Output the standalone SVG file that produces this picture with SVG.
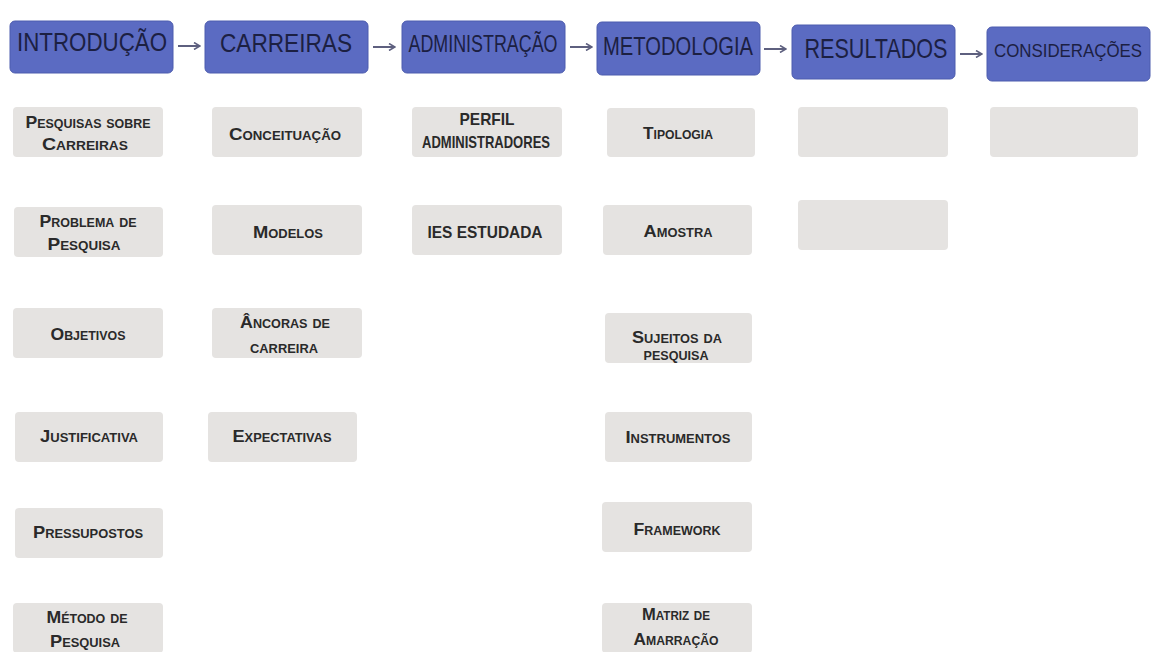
<svg xmlns="http://www.w3.org/2000/svg" width="1156" height="652" viewBox="0 0 1156 652">
<style>
.hdr rect{fill:#5b6bc2;stroke:#4d5cae;stroke-width:1}
.hdr text{font-family:"Liberation Sans Narrow","Liberation Sans",Arial,sans-serif;fill:#1c2042;text-anchor:middle}
.sub rect{fill:#e5e3e1}
.sub text{font-family:"Liberation Sans Narrow","Liberation Sans",Arial,sans-serif;font-weight:bold;font-size:17px;font-variant:small-caps;fill:#2a2a2a;text-anchor:middle}
.conn line{stroke:#5e607f;stroke-width:2}
</style>
<defs>
<marker id="ah" markerWidth="8" markerHeight="8" refX="7" refY="4" orient="auto" markerUnits="userSpaceOnUse">
<path d="M1,0.5 L7,4 L1,7.5" fill="none" stroke="#5e607f" stroke-width="1.6"/>
</marker>
</defs>
<rect width="1156" height="652" fill="#ffffff"/>

<g id="connectors" class="conn">
<line x1="178" y1="46" x2="200" y2="46" marker-end="url(#ah)"/>
<line x1="373" y1="47" x2="395" y2="47" marker-end="url(#ah)"/>
<line x1="570" y1="47" x2="592" y2="47" marker-end="url(#ah)"/>
<line x1="764" y1="49" x2="786" y2="49" marker-end="url(#ah)"/>
<line x1="960" y1="54" x2="982" y2="54" marker-end="url(#ah)"/>
</g>

<g id="h-introducao" class="hdr"><rect x="10" y="21" width="163" height="52" rx="5"/><text x="92" y="51" font-size="25" textLength="150" lengthAdjust="spacingAndGlyphs">INTRODUÇÃO</text></g>
<g id="h-carreiras" class="hdr"><rect x="205" y="21" width="163" height="52" rx="5"/><text x="286" y="52" font-size="25" textLength="132" lengthAdjust="spacingAndGlyphs">CARREIRAS</text></g>
<g id="h-administracao" class="hdr"><rect x="402" y="21" width="163" height="52" rx="5"/><text x="483" y="52" font-size="23" textLength="149" lengthAdjust="spacingAndGlyphs">ADMINISTRAÇÃO</text></g>
<g id="h-metodologia" class="hdr"><rect x="597" y="22" width="163" height="53" rx="5"/><text x="678" y="55" font-size="26" textLength="150" lengthAdjust="spacingAndGlyphs">METODOLOGIA</text></g>
<g id="h-resultados" class="hdr"><rect x="792" y="25" width="163" height="54" rx="5"/><text x="876" y="58" font-size="28" textLength="143" lengthAdjust="spacingAndGlyphs">RESULTADOS</text></g>
<g id="h-consideracoes" class="hdr"><rect x="987" y="27" width="163" height="54" rx="5"/><text x="1068" y="57" font-size="19" textLength="148" lengthAdjust="spacingAndGlyphs">CONSIDERAÇÕES</text></g>

<g id="n-pesquisas" class="sub"><rect x="13" y="107" width="150" height="50" rx="4"/><text x="88" y="128" textLength="125" lengthAdjust="spacingAndGlyphs">Pesquisas sobre</text><text x="85" y="150" textLength="86" lengthAdjust="spacingAndGlyphs">Carreiras</text></g>
<g id="n-problema" class="sub"><rect x="14" y="207" width="149" height="50" rx="4"/><text x="88" y="227" textLength="97" lengthAdjust="spacingAndGlyphs">Problema de</text><text x="84" y="250" textLength="73" lengthAdjust="spacingAndGlyphs">Pesquisa</text></g>
<g id="n-objetivos" class="sub"><rect x="13" y="308" width="150" height="50" rx="4"/><text x="88" y="340" textLength="75" lengthAdjust="spacingAndGlyphs">Objetivos</text></g>
<g id="n-justificativa" class="sub"><rect x="15" y="412" width="148" height="50" rx="4"/><text x="89" y="442" textLength="98" lengthAdjust="spacingAndGlyphs">Justificativa</text></g>
<g id="n-pressupostos" class="sub"><rect x="15" y="508" width="148" height="50" rx="4"/><text x="88" y="538" textLength="110" lengthAdjust="spacingAndGlyphs">Pressupostos</text></g>
<g id="n-metodo" class="sub"><rect x="13" y="603" width="150" height="50" rx="4"/><text x="87" y="623" textLength="81" lengthAdjust="spacingAndGlyphs">Método de</text><text x="85" y="647" textLength="70" lengthAdjust="spacingAndGlyphs">Pesquisa</text></g>

<g id="n-conceituacao" class="sub"><rect x="212" y="107" width="150" height="50" rx="4"/><text x="285" y="140" textLength="112" lengthAdjust="spacingAndGlyphs">Conceituação</text></g>
<g id="n-modelos" class="sub"><rect x="212" y="205" width="150" height="50" rx="4"/><text x="288" y="238" textLength="70" lengthAdjust="spacingAndGlyphs">Modelos</text></g>
<g id="n-ancoras" class="sub"><rect x="212" y="308" width="150" height="50" rx="4"/><text x="285" y="328" textLength="90" lengthAdjust="spacingAndGlyphs">Âncoras de</text><text x="284" y="353" textLength="68" lengthAdjust="spacingAndGlyphs">carreira</text></g>
<g id="n-expectativas" class="sub"><rect x="208" y="412" width="149" height="50" rx="4"/><text x="282" y="442" textLength="99" lengthAdjust="spacingAndGlyphs">Expectativas</text></g>

<g id="n-perfil" class="sub"><rect x="412" y="107" width="150" height="50" rx="4"/><text x="487" y="125" style="font-variant:normal" font-size="16" textLength="55" lengthAdjust="spacingAndGlyphs">PERFIL</text><text x="486" y="148" style="font-variant:normal" font-size="13" textLength="128" lengthAdjust="spacingAndGlyphs">ADMINISTRADORES</text></g>
<g id="n-ies" class="sub"><rect x="412" y="205" width="150" height="50" rx="4"/><text x="485" y="238" style="font-variant:normal" font-size="17" textLength="115" lengthAdjust="spacingAndGlyphs">IES ESTUDADA</text></g>

<g id="n-tipologia" class="sub"><rect x="607" y="108" width="148" height="49" rx="4"/><text x="678" y="139" textLength="70" lengthAdjust="spacingAndGlyphs">Tipologia</text></g>
<g id="n-amostra" class="sub"><rect x="603" y="205" width="149" height="50" rx="4"/><text x="678" y="237" textLength="69" lengthAdjust="spacingAndGlyphs">Amostra</text></g>
<g id="n-sujeitos" class="sub"><rect x="605" y="313" width="147" height="50" rx="4"/><text x="677" y="343" textLength="90" lengthAdjust="spacingAndGlyphs">Sujeitos da</text><text x="676" y="360" textLength="65" lengthAdjust="spacingAndGlyphs">pesquisa</text></g>
<g id="n-instrumentos" class="sub"><rect x="605" y="412" width="147" height="50" rx="4"/><text x="678" y="443" textLength="105" lengthAdjust="spacingAndGlyphs">Instrumentos</text></g>
<g id="n-framework" class="sub"><rect x="602" y="502" width="150" height="50" rx="4"/><text x="677" y="535" textLength="87" lengthAdjust="spacingAndGlyphs">Framework</text></g>
<g id="n-matriz" class="sub"><rect x="602" y="603" width="150" height="50" rx="4"/><text x="676" y="620" textLength="68" lengthAdjust="spacingAndGlyphs">Matriz de</text><text x="676" y="645" textLength="85" lengthAdjust="spacingAndGlyphs">Amarração</text></g>

<g id="n-resultados-1" class="sub"><rect x="798" y="107" width="150" height="50" rx="4"/></g>
<g id="n-resultados-2" class="sub"><rect x="798" y="200" width="150" height="50" rx="4"/></g>
<g id="n-consideracoes-1" class="sub"><rect x="990" y="107" width="148" height="50" rx="4"/></g>
</svg>
